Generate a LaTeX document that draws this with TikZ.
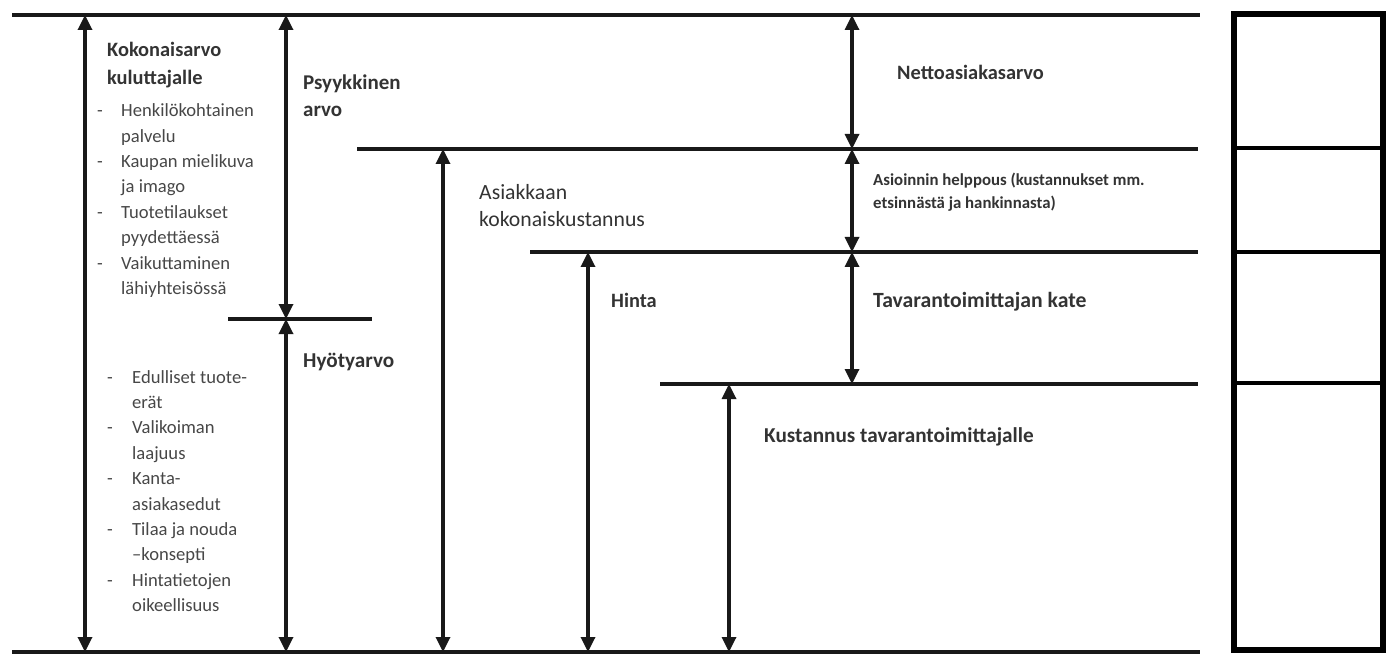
\documentclass[tikz,border=0pt]{standalone}
\usepackage{fontspec}
\setmainfont{Carlito}
\usetikzlibrary{arrows.meta}
\definecolor{txt}{HTML}{333333}
\definecolor{btxt}{HTML}{474747}
\begin{document}
\begin{tikzpicture}[x=1pt,y=-1pt,
  level/.style={line width=3.3pt, draw=black!90},
  dim/.style={line width=3.3pt, draw=black!90,
    {Triangle[width=14pt,length=15pt]}-{Triangle[width=14pt,length=15pt]}},
  ttl/.style={anchor=base west, inner sep=0pt, text=txt,
    font=\fontsize{#1}{27.5}\selectfont\bfseries, align=left},
  ttl/.default=20.4,
  reg/.style={anchor=base west, inner sep=0pt, text=txt,
    font=\fontsize{21.7}{27.5}\selectfont, align=left},
  small/.style={anchor=base west, inner sep=0pt, text=txt,
    font=\fontsize{16.8}{22.5}\selectfont\bfseries, align=left},
  blist/.style={anchor=north west, inner sep=0pt, text=btxt,
    font=\fontsize{18.6}{25.4}\selectfont},
  boxline/.style={line width=5.6pt, draw=black}
]
\useasboundingbox (0,0) rectangle (1390,655);

% level lines
\coordinate (t0) at (12,15);   \coordinate (t1) at (1200,15);
\coordinate (a0) at (357,149); \coordinate (a1) at (1198,149);
\coordinate (b0) at (530,252); \coordinate (b1) at (1198,252);
\coordinate (c0) at (660,384); \coordinate (c1) at (1198,384);
\coordinate (d0) at (12,652);  \coordinate (d1) at (1200,652);
\coordinate (s0) at (228,319); \coordinate (s1) at (372,319);
\draw[level] (t0) -- (t1);
\draw[level] (a0) -- (a1);
\draw[level] (b0) -- (b1);
\draw[level] (c0) -- (c1);
\draw[level] (d0) -- (d1);
\draw[level] (s0) -- (s1);

% arrow ends
\coordinate (k0) at (85,15);   \coordinate (k1) at (85,652);
\coordinate (p0) at (286,15);  \coordinate (p1) at (286,319);
\coordinate (h1) at (286,652);
\coordinate (q0) at (443,149); \coordinate (q1) at (443,652);
\coordinate (r0) at (588,252); \coordinate (r1) at (588,652);
\coordinate (u0) at (729,384); \coordinate (u1) at (729,652);
\coordinate (n0) at (852,15);  \coordinate (n1) at (852,149);
\coordinate (n2) at (852,252); \coordinate (n3) at (852,384);
\draw[dim] (k0) -- (k1);
\draw[dim] (p0) -- (p1);
\draw[dim] (p1) -- (h1);
\draw[dim] (q0) -- (q1);
\draw[dim] (r0) -- (r1);
\draw[dim] (u0) -- (u1);
\draw[dim] (n0) -- (n1);
\draw[dim] (n1) -- (n2);
\draw[dim] (n2) -- (n3);

% titles (base anchor = baseline of last line)
\node[ttl] (kok) at (107,84.5) {Kokonaisarvo\\kuluttajalle};
\node[ttl=21] (psy) at (303,117) {Psyykkinen\\arvo};
\node[ttl=21.2] (hyo) at (303,367) {Hyötyarvo};
\node[reg] (asi) at (479,227) {Asiakkaan\\kokonaiskustannus};
\node[ttl] (hin) at (611,307) {Hinta};
\node[ttl] (net) at (897,80) {Nettoasiakasarvo};
\node[small] (hel) at (873,208.5) {Asioinnin helppous (kustannukset mm.\\etsinnästä ja hankinnasta)};
\node[ttl=21.7] (kat) at (873,307) {Tavarantoimittajan kate};
\node[ttl=21.2] (kus) at (764,442) {Kustannus tavarantoimittajalle};

% bullet lists
\node[blist] (l1) at (97,98.8) {\begin{tabular}{@{}p{24pt}@{}l@{}}
-& Henkilökohtainen\\
 & palvelu\\
-& Kaupan mielikuva\\
 & ja imago\\
-& Tuotetilaukset\\
 & pyydettäessä\\
-& Vaikuttaminen\\
 & lähiyhteisössä
\end{tabular}};
\node[blist] (l2) at (107,365.2) {\begin{tabular}{@{}p{25pt}@{}l@{}}
-& Edulliset tuote-\\
 & erät\\
-& Valikoiman\\
 & laajuus\\
-& Kanta-\\
 & asiakasedut\\
-& Tilaa ja nouda\\
 & –konsepti\\
-& Hintatietojen\\
 & oikeellisuus
\end{tabular}};

% right column box
\coordinate (x0) at (1234,14); \coordinate (x1) at (1383,650);
\draw[boxline] (x0) rectangle (x1);
\coordinate (e0) at (1234,148); \coordinate (e1) at (1383,148);
\coordinate (f0) at (1234,252); \coordinate (f1) at (1383,252);
\coordinate (g0) at (1234,383); \coordinate (g1) at (1383,383);
\draw[boxline, line width=4.6pt] (e0) -- (e1);
\draw[boxline, line width=4.6pt] (f0) -- (f1);
\draw[boxline, line width=4.6pt] (g0) -- (g1);
\end{tikzpicture}
\end{document}
